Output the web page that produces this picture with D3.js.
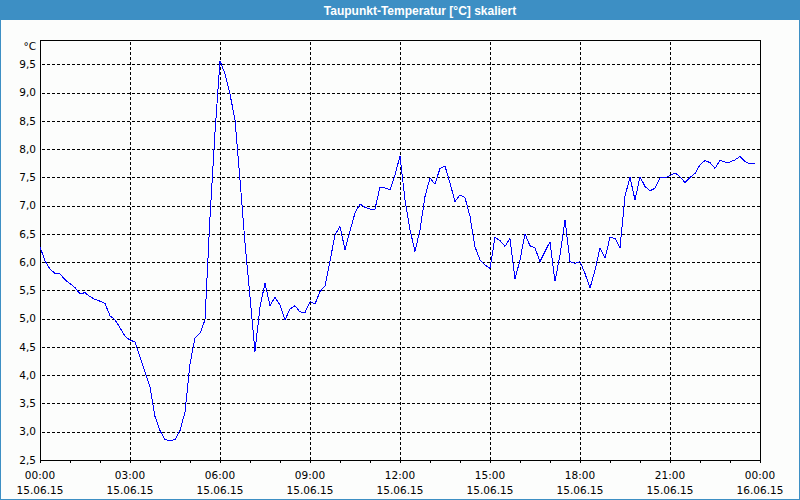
<!DOCTYPE html>
<html><head><meta charset="utf-8">
<script src="https://cdn.jsdelivr.net/npm/d3@7"></script>
<style>
html,body{margin:0;padding:0;background:#fcfdfc;}
svg{display:block;}
</style></head>
<body>
<svg id="chart" width="800" height="500"></svg>
<script>
const title = "Taupunkt-Temperatur [°C] skaliert";
const unitLabel = "°C";
const startTime = new Date(2015, 5, 15, 0, 0);
const stepMinutes = 10;
// dew point, 10-minute samples from 15.06.15 00:00
const values = [
 6.27,6.02,5.88,5.80,5.79,5.69,5.62,5.55,5.44,5.46,5.39,5.34,5.31,5.27,5.05,4.98,
 4.84,4.69,4.62,4.59,4.32,4.06,3.79,3.27,3.02,2.86,2.84,2.86,3.02,3.35,4.20,4.66,
 4.74,4.98,6.80,8.30,9.56,9.33,8.97,8.52,7.46,6.34,5.39,4.42,5.21,5.63,5.23,5.38,
 5.24,4.98,5.17,5.23,5.12,5.11,5.30,5.26,5.48,5.58,6.02,6.48,6.63,6.22,6.55,6.87,
 7.03,6.97,6.94,6.94,7.33,7.31,7.28,7.54,7.88,7.10,6.57,6.19,6.57,7.16,7.49,7.38,
 7.66,7.70,7.40,7.07,7.19,7.14,6.81,6.27,6.04,5.95,5.89,6.44,6.38,6.28,6.42,5.70,
 6.04,6.50,6.29,6.25,6.01,6.19,6.36,5.66,6.13,6.75,6.01,5.98,6.01,5.80,5.54,5.86,
 6.25,6.07,6.44,6.42,6.25,7.17,7.50,7.10,7.51,7.34,7.26,7.31,7.49,7.49,7.53,7.58,
 7.51,7.41,7.50,7.57,7.72,7.80,7.76,7.66,7.80,7.77,7.77,7.81,7.87,7.78,7.74,7.74
];
const yTicks = [2.5,3.0,3.5,4.0,4.5,5.0,5.5,6.0,6.5,7.0,7.5,8.0,8.5,9.0,9.5];
const xTickHours = [0,3,6,9,12,15,18,21,24];
const xTickTimeLabels = ["00:00","03:00","06:00","09:00","12:00","15:00","18:00","21:00","00:00"];
const xTickDateLabels = ["15.06.15","15.06.15","15.06.15","15.06.15","15.06.15","15.06.15","15.06.15","15.06.15","16.06.15"];

(function(){
const W = 800, H = 500;
const pL = 40, pR = 760, pT = 40, pB = 460;
const svg = d3.select("#chart");
const font = "'DejaVu Sans', Tahoma, sans-serif";

const hour = 3600 * 1000;
const x = d3.scaleTime().domain([startTime, new Date(+startTime + 24 * hour)]).range([pL, pR]);
const y = d3.scaleLinear().domain([2.5, 9.93]).range([pB, pT]);
const px = v => Math.round(v) + 0.5;
const hx = h => x(new Date(+startTime + h*hour));

svg.append("rect").attr("x",0).attr("y",0).attr("width",W).attr("height",H).attr("fill","#fcfdfc");
svg.append("rect").attr("x",0).attr("y",0).attr("width",W).attr("height",20).attr("fill","#3d8fc4");
svg.append("rect").attr("x",0.5).attr("y",0.5).attr("width",W-1).attr("height",H-1)
  .attr("fill","none").attr("stroke","#3d8fc4");
svg.append("text").attr("x",420).attr("y",14.5).attr("text-anchor","middle")
  .attr("fill","#ffffff").attr("font-family","'Liberation Sans', Arial, sans-serif")
  .attr("font-weight","bold").attr("font-size","12px").text(title);

const g = svg.append("g").attr("shape-rendering","crispEdges");
g.selectAll(".hg").data(yTicks.filter(v => v > 2.5)).join("line")
  .attr("x1",pL+2).attr("x2",pR)
  .attr("y1",d => px(y(d))).attr("y2",d => px(y(d)))
  .attr("stroke","#000").attr("stroke-dasharray","3,2");
g.selectAll(".vg").data(xTickHours.filter(h => h > 0 && h < 24)).join("line")
  .attr("x1",d => px(hx(d))).attr("x2",d => px(hx(d)))
  .attr("y1",pT+2).attr("y2",pB)
  .attr("stroke","#000").attr("stroke-dasharray","3,2");

g.selectAll(".tk").data(d3.range(0, 25)).join("line")
  .attr("x1",d => px(hx(d))).attr("x2",d => px(hx(d)))
  .attr("y1",pB).attr("y2",pB+3).attr("stroke","#000");

g.append("rect").attr("x",pL+0.5).attr("y",pT+0.5).attr("width",pR-pL).attr("height",pB-pT)
  .attr("fill","none").attr("stroke","#000");

svg.selectAll(".yl").data(yTicks).join("text")
  .attr("x",36).attr("y",d => y(d)).attr("dy","0.35em").attr("text-anchor","end")
  .attr("font-family",font).attr("font-size","10.5px").attr("fill","#000")
  .text(d => d.toFixed(1).replace(".",","));
svg.append("text").attr("x",36).attr("y",46).attr("dy","0.35em").attr("text-anchor","end")
  .attr("font-family",font).attr("font-size","10.5px").attr("fill","#000").text(unitLabel);

xTickHours.forEach((h,i) => {
  const xx = hx(h);
  svg.append("text").attr("x",xx).attr("y",478.5).attr("text-anchor","middle")
    .attr("font-family",font).attr("font-size","10.5px").attr("fill","#000").text(xTickTimeLabels[i]);
  svg.append("text").attr("x",xx).attr("y",494).attr("text-anchor","middle")
    .attr("font-family",font).attr("font-size","10.5px").attr("fill","#000").text(xTickDateLabels[i]);
});

const data = values.map((v,i) => ({t: new Date(+startTime + i*stepMinutes*60000), v}));
svg.append("path").datum(data)
  .attr("d", d3.line().x(d => x(d.t)).y(d => y(d.v)))
  .attr("fill","none").attr("stroke","#0000ff").attr("stroke-width",1)
  .attr("shape-rendering","crispEdges");
})();
</script>
</body></html>
